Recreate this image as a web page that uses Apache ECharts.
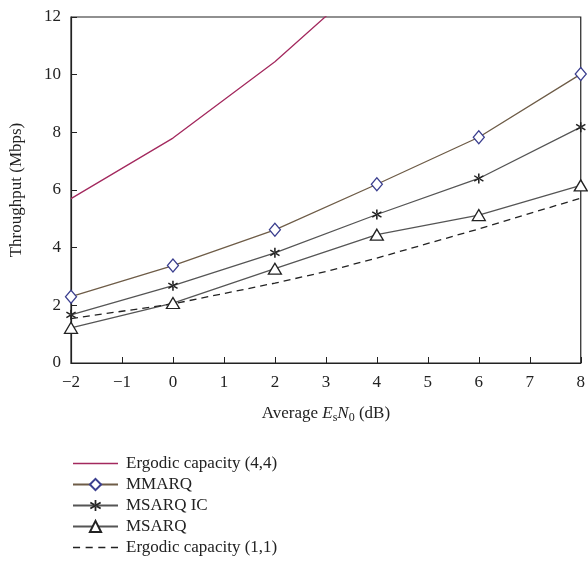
<!DOCTYPE html>
<html>
<head>
<meta charset="utf-8">
<script src="https://cdn.jsdelivr.net/npm/echarts@6/dist/echarts.min.js"></script>
<style>
  html, body { margin: 0; padding: 0; background: #fff; }
  #chart { width: 588px; height: 571px; }
</style>
</head>
<body>
<div id="chart"></div>
<script>
// values
const snr = [-2, 0, 2, 4, 6, 8];
const ergodic44 = [[-2, 5.7], [0, 7.8], [2, 10.45], [4, 13.6]];
const mmarq = [2.3, 3.38, 4.62, 6.2, 7.83, 10.02];
const msarqIC = [1.67, 2.68, 3.82, 5.15, 6.4, 8.18];
const msarq = [1.22, 2.08, 3.27, 4.45, 5.13, 6.16];
const ergodic11 = [[-2, 1.54], [0, 2.05], [2, 2.77], [3, 3.17], [4, 3.64], [6, 4.65], [8, 5.72]];

const serif = '"Liberation Serif", "DejaVu Serif", serif';

// asterisk built from three thin bars
const star = 'path://M-0.7,-5L0.7,-5L0.7,5L-0.7,5Z' +
  'M3.8,-3.3L4.5,-2.1L-3.8,3.3L-4.5,2.1Z' +
  'M-3.8,-3.3L-4.5,-2.1L3.8,3.3L4.5,2.1Z';

// plain and dashed legend strokes
const solidIcon = 'path://M0,0L45,0L45,1.3L0,1.3Z';
const dashIcon = 'path://M0,0h7v1.3h-7Z M12.5,0h7v1.3h-7Z M25,0h7v1.3h-7Z M37.5,0h7v1.3h-7Z';

const chart = echarts.init(document.getElementById('chart'));
const zip = (xs, ys) => xs.map((x, i) => [x, ys[i]]);

chart.setOption({
  animation: false,
  textStyle: { fontFamily: serif },
  grid: {
    left: 68, right: 6, top: 17, bottom: 208,
    show: true, borderColor: '#222', borderWidth: 1.2
  },
  legend: {
    orient: 'vertical',
    left: 72,
    top: 455,
    padding: 0,
    height: 116,
    itemWidth: 45,
    itemHeight: 14,
    itemGap: 4,
    textStyle: { fontFamily: serif, fontSize: 17, color: '#222', padding: [0, 0, 0, 3] },
    data: [
      { name: 'Ergodic capacity (4,4)', icon: solidIcon, itemStyle: { color: '#a3295e' } },
      'MMARQ', 'MSARQ IC', 'MSARQ',
      { name: 'Ergodic capacity (1,1)', icon: dashIcon, itemStyle: { color: '#222' } }
    ]
  },
  xAxis: {
    type: 'value',
    min: -2, max: 8, interval: 1,
    name: '{n|Average }{i|E}{sub|s}{i|N}{sub|0}{n| (dB)}',
    nameLocation: 'middle',
    nameGap: 41,
    nameTextStyle: {
      rich: {
        n: { fontFamily: serif, fontSize: 17, color: '#222' },
        i: { fontFamily: serif, fontSize: 17, fontStyle: 'italic', color: '#222' },
        sub: { fontFamily: serif, fontSize: 12, color: '#222', padding: [8, 0, 0, 0] }
      }
    },
    axisLine: { onZero: false, lineStyle: { color: '#222', width: 1.2 } },
    axisTick: { inside: true, length: 6, lineStyle: { color: '#222' } },
    axisLabel: {
      fontFamily: serif, fontSize: 17, color: '#222', margin: 11,
      formatter: v => String(v).replace('-', '\u2212')
    },
    splitLine: { show: false }
  },
  yAxis: {
    type: 'value',
    min: 0, max: 12, interval: 2,
    name: 'Throughput (Mbps)',
    nameLocation: 'middle',
    nameGap: 46,
    nameTextStyle: { fontFamily: serif, fontSize: 17, color: '#222' },
    axisLine: { onZero: false, lineStyle: { color: '#222', width: 1.2 } },
    axisTick: { inside: true, length: 6, lineStyle: { color: '#222' } },
    axisLabel: { fontFamily: serif, fontSize: 17, color: '#222', margin: 10 },
    splitLine: { show: false }
  },
  series: [
    {
      name: 'Ergodic capacity (4,4)',
      type: 'line',
      data: ergodic44,
      showSymbol: false,
      clip: true,
      lineStyle: { color: '#a3295e', width: 1.3 },
      itemStyle: { color: '#a3295e' }
    },
    {
      name: 'MMARQ',
      type: 'line',
      data: zip(snr, mmarq),
      symbol: 'diamond',
      symbolSize: [11, 13],
      lineStyle: { color: '#6e5c47', width: 1.3 },
      itemStyle: { color: '#fff', borderColor: '#3b3f8f', borderWidth: 1.3 }
    },
    {
      name: 'MSARQ IC',
      type: 'line',
      data: zip(snr, msarqIC),
      symbol: star,
      symbolSize: 10,
      lineStyle: { color: '#555', width: 1.3 },
      itemStyle: { color: '#222' }
    },
    {
      name: 'MSARQ',
      type: 'line',
      data: zip(snr, msarq),
      symbol: 'triangle',
      symbolSize: [13, 11],
      lineStyle: { color: '#555', width: 1.3 },
      itemStyle: { color: '#fff', borderColor: '#222', borderWidth: 1.3 }
    },
    {
      name: 'Ergodic capacity (1,1)',
      type: 'line',
      data: ergodic11,
      showSymbol: false,
      lineStyle: { color: '#222', width: 1.3, type: [7, 5] },
      itemStyle: { color: '#222' }
    }
  ]
});
</script>
</body>
</html>
